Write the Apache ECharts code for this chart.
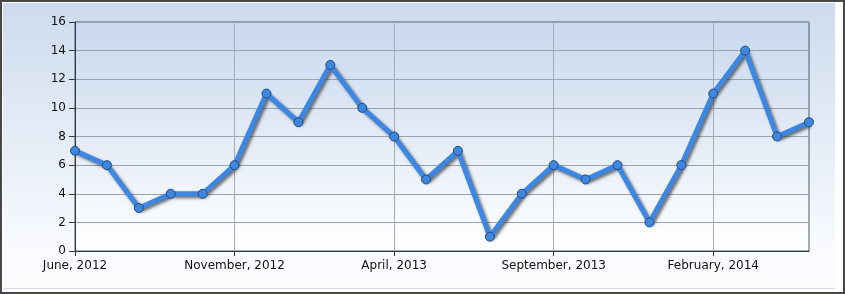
<!DOCTYPE html>
<html><head><meta charset="utf-8">
<script src="https://cdn.jsdelivr.net/npm/echarts@6/dist/echarts.min.js"></script>
<style>
html,body{margin:0;padding:0;background:#fff;}
#wrap{position:relative;width:845px;height:294px;box-sizing:border-box;border:2px solid #474747;background:#fff;}
#panel{position:absolute;left:1px;top:1px;width:832px;height:285px;background:linear-gradient(#cddbee,#f8fafe 85%,#fbfcfe);border-bottom:1px solid #d4ddef;}
#chart{position:absolute;left:-2px;top:-2px;width:845px;height:294px;}
</style></head>
<body>
<div id="wrap"><div id="panel"></div><div id="chart"></div></div>
<script>
const months = ["June, 2012","July, 2012","August, 2012","September, 2012","October, 2012","November, 2012","December, 2012",
"January, 2013","February, 2013","March, 2013","April, 2013","May, 2013","June, 2013","July, 2013","August, 2013",
"September, 2013","October, 2013","November, 2013","December, 2013","January, 2014","February, 2014","March, 2014",
"April, 2014","May, 2014"];
const values = [7,6,3,4,4,6,11,9,13,10,8,5,7,1,4,6,5,6,2,6,11,14,8,9];
const yTicks = {min:0,max:16,interval:2};

const chart = echarts.init(document.getElementById('chart'), null, {renderer:'canvas'});
chart.setOption({
  animation:false,
  grid:{left:75,right:36,top:22,bottom:43,show:true,borderColor:'#4a5a68',borderWidth:1,
    backgroundColor:new echarts.graphic.LinearGradient(0,0,0,1,[{offset:0,color:'#c8d8ee'},{offset:1,color:'#ffffff'}])},
  xAxis:{type:'category',data:months,boundaryGap:false,
    axisLine:{lineStyle:{color:'#2e3a44',width:1}},
    axisTick:{interval:4,length:5,lineStyle:{color:'#2e3a44'}},
    axisLabel:{interval:4,margin:9,color:'#111',fontFamily:'DejaVu Sans',fontSize:12},
    splitLine:{show:true,interval:4,lineStyle:{color:'#a4acb6',width:1}}},
  yAxis:{type:'value',min:yTicks.min,max:yTicks.max,interval:yTicks.interval,
    axisLine:{show:true,lineStyle:{color:'#2e3a44',width:1}},
    axisTick:{show:true,length:6,lineStyle:{color:'#2e3a44'}},
    axisLabel:{margin:9,color:'#111',fontFamily:'DejaVu Sans',fontSize:12},
    splitLine:{show:true,lineStyle:{color:'#9aa2ac',width:1}}},
  series:[{type:'line',data:values,symbol:'circle',symbolSize:9,
    lineStyle:{color:'#3d87e4',width:5,shadowColor:'rgba(40,40,40,0.65)',shadowBlur:3,shadowOffsetX:2,shadowOffsetY:2},
    itemStyle:{color:'#3f86df',borderColor:'#1f4a80',borderWidth:1}}]
});
</script>
</body></html>
